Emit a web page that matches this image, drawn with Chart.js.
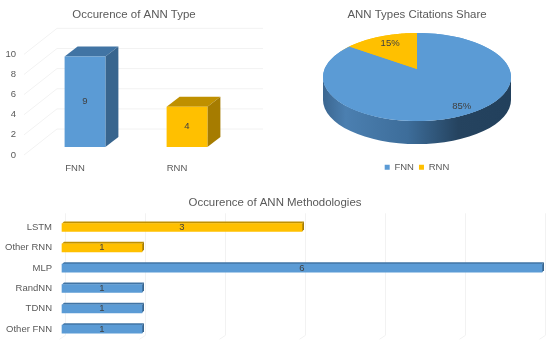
<!DOCTYPE html>
<html>
<head>
<meta charset="utf-8">
<title>ANN charts</title>
<script src="https://cdn.jsdelivr.net/npm/chart.js@4"></script>
<style>
  html, body { margin: 0; padding: 0; background: #fff; overflow: hidden; }
  canvas { position: absolute; }
</style>
</head>
<body>
<canvas id="types" width="268" height="185" style="left:0;top:0"></canvas>
<canvas id="share" width="264" height="185" style="left:285px;top:0"></canvas>
<canvas id="methods" width="550" height="170" style="left:0;top:185px"></canvas>
<script>
const typeLabels = ['FNN', 'RNN'];
const typeCounts = [9, 4];

const shareLabels = ['FNN', 'RNN'];
const shareValues = [85, 15];

const methodLabels = ['LSTM', 'Other RNN', 'MLP', 'RandNN', 'TDNN', 'Other FNN'];
const methodCounts = [3, 1, 6, 1, 1, 1];
const methodFamily = ['RNN', 'RNN', 'FNN', 'FNN', 'FNN', 'FNN'];

const BLUE = { front: '#5b9bd5', top: '#4174a4', side: '#38658e' };
const GOLD = { front: '#ffc000', top: '#bf9000', side: '#a67c00' };
const familyColor = { FNN: BLUE, RNN: GOLD };
const TEXT = '#595959';
const GRID = '#f2f2f2';
const FONT = '"Liberation Sans", Arial, sans-serif';

Chart.defaults.font.family = FONT;
Chart.defaults.font.size = 9.5;
Chart.defaults.color = TEXT;
Chart.defaults.animation = false;

const titleOpts = (text, top, bottom) => ({
  display: true,
  text,
  color: TEXT,
  font: { size: 11.45, weight: 'normal' },
  padding: { top, bottom }
});

// empty axis on the right, keeps the title centred on the whole canvas
const spacerAxis = width => ({
  type: 'linear',
  position: 'right',
  grid: { display: false, drawTicks: false },
  border: { display: false },
  ticks: { display: false },
  afterFit: s => { s.width = width; }
});

// back wall and side wall of the column chart, then the 3d faces of each column
const columnDepth = {
  id: 'columnDepth',
  beforeDatasetsDraw(chart) {
    const { ctx, chartArea, scales } = chart;
    const wallX = 33, wallY = 26;
    ctx.save();
    ctx.strokeStyle = GRID;
    ctx.lineWidth = 1;
    for (const t of scales.y.ticks) {
      const y = scales.y.getPixelForValue(t.value);
      ctx.beginPath();
      ctx.moveTo(chartArea.left, y);
      ctx.lineTo(chartArea.left + wallX, y - wallY);
      ctx.lineTo(chartArea.right + wallX + 2, y - wallY);
      ctx.stroke();
    }
    ctx.restore();

    ctx.save();
    ctx.translate(10, -8);
    const dx = 13, dy = 10;
    chart.getDatasetMeta(0).data.forEach((bar, i) => {
      const c = familyColor[typeLabels[i]];
      const l = bar.x - bar.width / 2, r = bar.x + bar.width / 2;
      ctx.fillStyle = c.top;
      ctx.beginPath();
      ctx.moveTo(l, bar.y);
      ctx.lineTo(l + dx, bar.y - dy);
      ctx.lineTo(r + dx, bar.y - dy);
      ctx.lineTo(r, bar.y);
      ctx.fill();
      ctx.fillStyle = c.side;
      ctx.beginPath();
      ctx.moveTo(r, bar.y);
      ctx.lineTo(r + dx, bar.y - dy);
      ctx.lineTo(r + dx, bar.base - dy);
      ctx.lineTo(r, bar.base);
      ctx.fill();
    });
  },
  afterDatasetsDraw(chart) {
    const { ctx } = chart;
    ctx.fillStyle = '#404040';
    ctx.font = '9.5px ' + FONT;
    ctx.textAlign = 'center';
    ctx.textBaseline = 'middle';
    chart.getDatasetMeta(0).data.forEach((bar, i) => {
      ctx.fillText(typeCounts[i], bar.x, (bar.y + bar.base) / 2);
    });
    ctx.restore();
  }
};

const pieCentreY = 77;
const pieTilt = 0.468;
const pieThickness = 23;
const piePerspective = 0.18;
const labelSpread = [[1.05, 0.74], [0.63, 0.87]];

// squash the pie into an ellipse and put the rim under it
const pieDepth = {
  id: 'pieDepth',
  beforeDatasetsDraw(chart) {
    const { ctx } = chart;
    const arc = chart.getDatasetMeta(0).data[0];
    const rx = arc.outerRadius, ry = rx * pieTilt, cx = arc.x, cy = pieCentreY;
    const g = ctx.createLinearGradient(cx - rx, 0, cx + rx, 0);
    g.addColorStop(0, '#3b6690');
    g.addColorStop(0.12, '#4b7fb0');
    g.addColorStop(0.45, '#3d6d9a');
    g.addColorStop(0.72, '#25435f');
    g.addColorStop(1, '#22405c');
    ctx.fillStyle = g;
    ctx.beginPath();
    ctx.ellipse(cx, cy + pieThickness, rx, ry, 0, 0, Math.PI);
    ctx.lineTo(cx - rx, cy);
    ctx.ellipse(cx, cy, rx, ry, 0, Math.PI, 0, true);
    ctx.closePath();
    ctx.fill();
    ctx.save();
    ctx.translate(cx, cy);
    ctx.scale(1, pieTilt);
    ctx.translate(-cx, -arc.y);
  },
  afterDatasetsDraw(chart) {
    const { ctx } = chart;
    ctx.restore();
    const arcs = chart.getDatasetMeta(0).data;
    const c = piePerspective, k = Math.sqrt(1 - c * c);
    // perspective: the slice tip sits above the middle of the ellipse
    const project = (arc, u, v) => [
      arc.x + arc.outerRadius * u * k / (1 - c * v),
      pieCentreY + arc.outerRadius * pieTilt * (v - c) / (1 - c * v)
    ];
    arcs.forEach((arc, i) => {
      ctx.fillStyle = familyColor[shareLabels[i]].front;
      ctx.beginPath();
      ctx.moveTo(...project(arc, 0, 0));
      for (let s = 0; s <= 90; s++) {
        const a = arc.startAngle + (arc.endAngle - arc.startAngle) * s / 90;
        ctx.lineTo(...project(arc, Math.cos(a), Math.sin(a)));
      }
      ctx.closePath();
      ctx.fill();
    });
    ctx.fillStyle = '#404040';
    ctx.font = '9.5px ' + FONT;
    ctx.textAlign = 'center';
    ctx.textBaseline = 'middle';
    arcs.forEach((arc, i) => {
      const mid = (arc.startAngle + arc.endAngle) / 2;
      const x = arc.x + Math.cos(mid) * arc.outerRadius * labelSpread[i][0];
      const y = pieCentreY + Math.sin(mid) * arc.outerRadius * pieTilt * labelSpread[i][1];
      ctx.fillText(shareValues[i] + '%', x, y);
    });
  }
};

// thin 3d faces on the horizontal bars, plus the shifted vertical gridlines
const barDepth = {
  id: 'barDepth',
  beforeDatasetsDraw(chart) {
    const { ctx, chartArea, scales } = chart;
    ctx.save();
    ctx.strokeStyle = GRID;
    ctx.lineWidth = 1;
    for (const t of scales.x.ticks) {
      const x = Math.round(scales.x.getPixelForValue(t.value) + 3) + 0.5;
      ctx.beginPath();
      ctx.moveTo(x, chartArea.top - 4);
      ctx.lineTo(x, chartArea.bottom - 4);
      ctx.lineTo(x - 6, chartArea.bottom);
      ctx.stroke();
    }
    ctx.restore();
    const dx = 2, dy = 2;
    chart.getDatasetMeta(0).data.forEach((bar, i) => {
      const c = familyColor[methodFamily[i]];
      const t = bar.y - bar.height / 2, b = bar.y + bar.height / 2;
      ctx.fillStyle = c.top;
      ctx.beginPath();
      ctx.moveTo(bar.base, t);
      ctx.lineTo(bar.base + dx, t - dy);
      ctx.lineTo(bar.x + dx, t - dy);
      ctx.lineTo(bar.x, t);
      ctx.fill();
      ctx.fillStyle = c.side;
      ctx.beginPath();
      ctx.moveTo(bar.x, t);
      ctx.lineTo(bar.x + dx, t - dy);
      ctx.lineTo(bar.x + dx, b - dy);
      ctx.lineTo(bar.x, b);
      ctx.fill();
    });
  },
  afterDatasetsDraw(chart) {
    const { ctx } = chart;
    ctx.fillStyle = '#404040';
    ctx.font = '9.5px ' + FONT;
    ctx.textAlign = 'center';
    ctx.textBaseline = 'middle';
    chart.getDatasetMeta(0).data.forEach((bar, i) => {
      ctx.fillText(methodCounts[i], (bar.base + bar.x) / 2, bar.y);
    });
  }
};

new Chart(document.getElementById('types'), {
  type: 'bar',
  data: {
    labels: typeLabels,
    datasets: [{
      data: typeCounts,
      backgroundColor: typeLabels.map(n => familyColor[n].front),
      barPercentage: 0.4,
      categoryPercentage: 1,
      clip: false
    }]
  },
  options: {
    responsive: false,
    layout: { padding: { bottom: 10 } },
    plugins: {
      legend: { display: false },
      tooltip: { enabled: false },
      title: titleOpts('Occurence of ANN Type', 8, 32.6)
    },
    scales: {
      x: {
        grid: { display: false, drawTicks: false },
        border: { display: false },
        ticks: { padding: 8, maxRotation: 0 },
        afterFit: s => { s.height = 20; }
      },
      y: {
        min: 0,
        max: 10,
        grid: { display: false, drawTicks: false },
        border: { display: false },
        ticks: { stepSize: 2, padding: 8 },
        afterFit: s => { s.width = 24; }
      },
      pad: spacerAxis(40)
    }
  },
  plugins: [columnDepth]
});

new Chart(document.getElementById('share'), {
  type: 'pie',
  data: {
    labels: shareLabels,
    datasets: [{
      data: shareValues,
      backgroundColor: shareLabels.map(n => familyColor[n].front),
      borderWidth: 0,
      radius: 94
    }]
  },
  options: {
    responsive: false,
    layout: { padding: { bottom: 3 } },
    plugins: {
      tooltip: { enabled: false },
      title: titleOpts('ANN Types Citations Share', 8, 9),
      legend: {
        position: 'bottom',
        labels: { boxWidth: 5, boxHeight: 5, padding: 5, color: TEXT }
      }
    }
  },
  plugins: [pieDepth]
});

new Chart(document.getElementById('methods'), {
  type: 'bar',
  data: {
    labels: methodLabels,
    datasets: [{
      data: methodCounts,
      backgroundColor: methodFamily.map(f => familyColor[f].front),
      barThickness: 8,
      clip: false
    }]
  },
  options: {
    responsive: false,
    indexAxis: 'y',
    layout: { padding: { bottom: 4 } },
    plugins: {
      legend: { display: false },
      tooltip: { enabled: false },
      title: titleOpts('Occurence of ANN Methodologies', 11, 7.6)
    },
    scales: {
      x: { display: false, min: 0, max: 6, ticks: { stepSize: 1 } },
      y: {
        grid: { display: false, drawTicks: false },
        border: { display: false },
        ticks: { padding: 10 },
        afterFit: s => { s.width = 62; }
      },
      pad: spacerAxis(8)
    }
  },
  plugins: [barDepth]
});
</script>
</body>
</html>
